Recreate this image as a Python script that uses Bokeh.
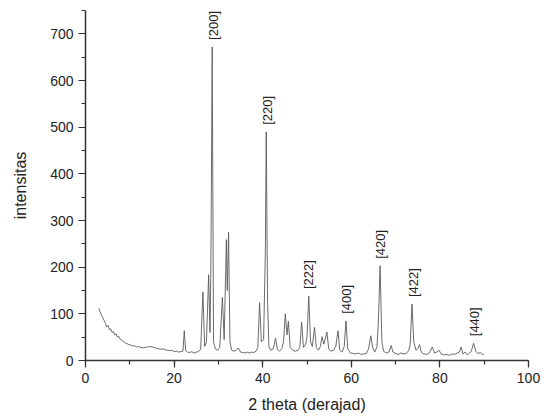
import numpy as np
from bokeh.plotting import figure
from bokeh.models import Range1d, SingleIntervalTicker
from bokeh.core.properties import value
from bokeh.embed import file_html
from bokeh.resources import INLINE

# XRD pattern
two_theta = [3.0, 3.3, 3.6, 3.9, 4.2, 4.5, 4.8, 5.1, 5.4, 5.7, 6.0, 6.3, 6.6, 6.9, 7.2, 7.5,
             7.8, 8.1, 8.4, 8.7, 9.0, 9.4, 9.8, 10.2, 10.6, 11.0, 11.5, 12.0, 12.5, 13.0, 13.5,
             14.0, 14.5, 15.0, 15.5, 16.0, 16.5, 17.0, 17.5, 18.0, 18.5, 19.0, 19.5, 20.0, 20.5,
             21.0, 21.5, 22.0, 22.3, 22.6, 23.0, 23.5, 24.0, 24.5, 25.0, 25.5, 26.0, 26.5, 26.9,
             27.3, 27.8, 28.1, 28.3, 28.6, 28.9, 29.3, 29.8, 30.3, 30.9, 31.3, 31.8, 32.0, 32.3,
             32.6, 33.0, 33.5, 34.0, 34.5, 35.0, 35.5, 36.0, 36.5, 37.0, 37.5, 38.0, 38.5, 38.9,
             39.3, 39.7, 40.2, 40.6, 40.8, 41.1, 41.4, 41.8, 42.4, 42.9, 43.3, 43.8, 44.3, 44.7,
             45.1, 45.5, 45.8, 46.2, 46.8, 47.4, 48.0, 48.4, 48.8, 49.2, 49.7, 50.0, 50.4, 50.8,
             51.2, 51.7, 52.1, 52.6, 53.0, 53.4, 53.8, 54.5, 54.9, 55.4, 56.0, 56.5, 57.0, 57.4,
             57.9, 58.4, 58.8, 59.2, 59.8, 60.5, 61.0, 61.6, 62.2, 62.8, 63.4, 63.9, 64.4, 64.8,
             65.3, 65.8, 66.1, 66.5, 66.9, 67.3, 67.9, 68.5, 69.0, 69.4, 70.0, 70.6, 71.2, 71.8,
             72.4, 73.0, 73.3, 73.7, 74.1, 74.6, 75.0, 75.4, 75.8, 76.4, 77.0, 77.6, 78.3, 78.8,
             79.3, 79.8, 80.3, 80.9, 81.5, 82.1, 82.7, 83.3, 83.9, 84.4, 84.8, 85.2, 85.7, 86.2,
             86.7, 87.1, 87.6, 88.1, 88.6, 89.1, 89.6, 89.9]
intensity = [112, 104, 98, 92, 86, 80, 72, 75, 66, 68, 60, 62, 55, 57, 50, 52,
             46, 44, 42, 40, 38, 36, 34, 33, 31, 32, 29, 30, 28, 27, 28,
             29, 30, 29, 28, 26, 25, 24, 25, 23, 22, 21, 22, 19, 20,
             18, 19, 20, 64, 21, 18, 17, 19, 16, 18, 19, 24, 147, 30,
             40, 184, 60, 197, 672, 40, 25, 22, 28, 135, 45, 259, 150, 275,
             40, 22, 20, 22, 27, 18, 17, 16, 18, 16, 18, 17, 20, 28,
             124, 40, 45, 232, 490, 127, 30, 22, 25, 48, 24, 20, 25, 40,
             100, 55, 84, 28, 22, 20, 22, 30, 82, 28, 35, 50, 138, 40,
             30, 71, 28, 22, 30, 51, 35, 61, 25, 20, 22, 30, 64, 22,
             18, 30, 85, 25, 16, 15, 14, 16, 13, 14, 15, 25, 53, 28,
             18, 30, 80, 203, 40, 20, 16, 18, 32, 18, 15, 13, 16, 14,
             15, 22, 35, 121, 40, 22, 25, 34, 18, 14, 13, 16, 29, 16,
             18, 22, 14, 12, 13, 11, 14, 13, 16, 18, 29, 14, 18, 12,
             16, 20, 37, 20, 15, 17, 13, 14]

# Miller indices written over the main reflections
label_text = ["[200]", "[220]", "[222]", "[400]", "[420]", "[422]", "[440]"]
label_pos = [28.8, 41.0, 50.4, 59.0, 66.6, 74.0, 87.9]
label_height = [672, 490, 138, 85, 203, 121, 37]

font = "Liberation Sans"
ink = "#222222"

p = figure(width=543, height=415, output_backend="svg", toolbar_location=None,
           x_range=Range1d(0, 100), y_range=Range1d(0, 750),
           min_border_left=85, min_border_right=15, min_border_top=10)
p.outline_line_color = None
p.grid.visible = False

p.line(two_theta, intensity, line_color="#5a5a5a", line_width=0.9)

p.text(x=label_pos, y=label_height, text=label_text, angle=np.pi / 2,
       text_align="left", text_baseline="middle", y_offset=-7,
       text_font=value(font), text_font_size="13px", text_color=ink)

p.xaxis.ticker = SingleIntervalTicker(interval=20, num_minor_ticks=2)
p.yaxis.ticker = SingleIntervalTicker(interval=100, num_minor_ticks=2)
p.xaxis.axis_label = "2 theta (derajad)"
p.yaxis.axis_label = "intensitas"

for ax in (p.xaxis, p.yaxis):
    ax.axis_line_color = "#333333"
    ax.axis_line_width = 1.5
    ax.major_tick_line_color = "#333333"
    ax.minor_tick_line_color = "#333333"
    ax.major_tick_line_width = 1.2
    ax.minor_tick_line_width = 1.2
    ax.major_tick_out = 7
    ax.major_tick_in = 0
    ax.minor_tick_out = 4
    ax.minor_tick_in = 0
    ax.major_label_text_font = font
    ax.major_label_text_font_size = "14px"
    ax.major_label_text_color = ink
    ax.major_label_standoff = 5
    ax.axis_label_text_font = font
    ax.axis_label_text_font_size = "16px"
    ax.axis_label_text_font_style = "normal"
    ax.axis_label_text_color = ink

p.yaxis.axis_label_standoff = 18
p.xaxis.axis_label_standoff = 10

open("out.html", "w").write(file_html(p, INLINE))
